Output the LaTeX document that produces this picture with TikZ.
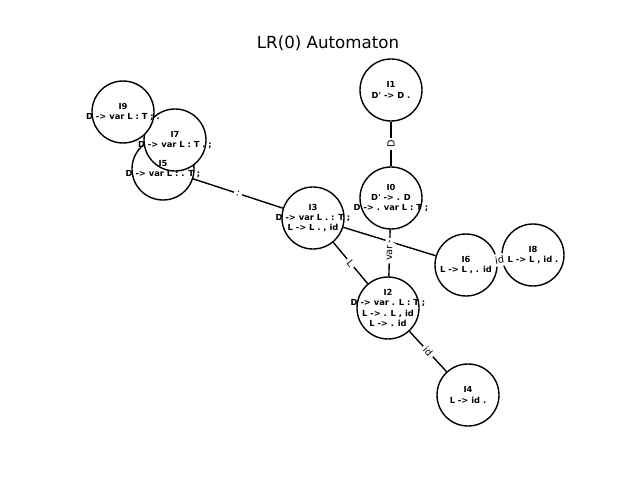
\documentclass[tikz,border=0pt]{standalone}
\usepackage{fontspec}
\newfontfamily\dv{DejaVu Sans}
\pgfdeclarelayer{bg}
\pgfsetlayers{bg,main}
\tikzset{
  state/.style={circle,draw=black,fill=white,line width=1pt,minimum size=44.64pt,inner sep=0pt},
  stxt/.style={font=\dv\bfseries\fontsize{6}{7.4}\selectfont,align=center,inner sep=0pt},
  elab/.style={font=\dv\fontsize{7}{8}\selectfont,fill=white,inner sep=1.8pt,sloped,midway},
  conn/.style={line width=1pt,draw=black},
  ttl/.style={font=\dv\fontsize{12}{14}\selectfont,inner sep=0pt}
}
\begin{document}
\begin{tikzpicture}[x=0.72pt,y=-0.72pt]
\useasboundingbox (0,0) rectangle (640,480);
\node[ttl] (title) at (328,43) {LR(0) Automaton};
% state circles (drawn in index order)
\node[state] (n0) at (391,198) {};
\node[state] (n1) at (391,90) {};
\node[state] (n2) at (388,308) {};
\node[state] (n3) at (313,218) {};
\node[state] (n4) at (468,395) {};
\node[state] (n5) at (163,169) {};
\node[state] (n6) at (466,265) {};
\node[state] (n7) at (175,140) {};
\node[state] (n8) at (533,255) {};
\node[state] (n9) at (123,112) {};
% connectors below the circles
\begin{pgfonlayer}{bg}
\draw[conn] (n0) -- (n1);
\draw[conn] (n0) -- (n2);
\draw[conn] (n2) -- (n3);
\draw[conn] (n3) -- (n5);
\draw[conn] (n3) -- (n6);
\draw[conn] (n2) -- (n4);
\draw[conn] (n6) -- (n8);
\end{pgfonlayer}
% state texts on top of all circles
\node[stxt] (t0) at (n0.center) {I0\\D' -> . D\\D -> . var L : T ;};
\node[stxt] (t1) at (n1.center) {I1\\D' -> D .};
\node[stxt] (t2) at (n2.center) {I2\\D -> var . L : T ;\\L -> . L , id\\L -> . id};
\node[stxt] (t3) at (n3.center) {I3\\D -> var L . : T ;\\L -> L . , id};
\node[stxt] (t4) at (n4.center) {I4\\L -> id .};
\node[stxt] (t5) at (n5.center) {I5\\D -> var L : . T ;};
\node[stxt] (t6) at (n6.center) {I6\\L -> L , . id};
\node[stxt] (t7) at (n7.center) {I7\\D -> var L : T . ;};
\node[stxt] (t8) at (n8.center) {I8\\L -> L , id .};
\node[stxt] (t9) at (n9.center) {I9\\D -> var L : T ; .};
% edge labels
\path (n0) -- (n1) node[elab] (l01) {D};
\path (n0) -- (n2) node[elab] (l02) {var};
\path (n2) -- (n3) node[elab] (l23) {L};
\path (n3) -- (n5) node[elab] (l35) {:};
\path (n3) -- (n6) node[elab] (l36) {,};
\path (n2) -- (n4) node[elab] (l24) {id};
\path (n6) -- (n8) node[elab] (l68) {id};
\end{tikzpicture}
\end{document}
